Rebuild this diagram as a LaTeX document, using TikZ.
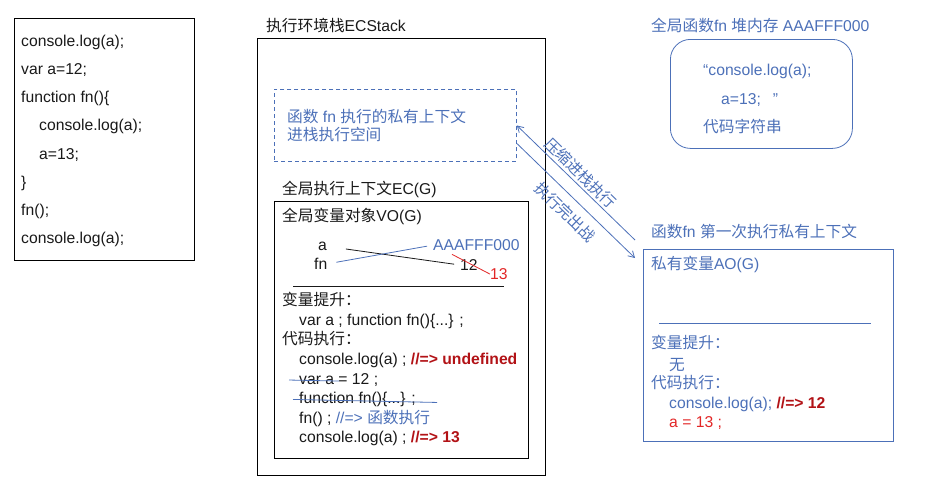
\documentclass[tikz,border=0pt]{standalone}
\usepackage{fontspec}
\setmainfont{Liberation Sans}
\newfontfamily\cjkfont{Noto Sans CJK SC}
\newcommand{\zh}[1]{{\cjkfont #1}}
\usepackage{tikz}
\usetikzlibrary{arrows.meta, calc}
\definecolor{diagBlue}{RGB}{76,112,184}
\definecolor{diagRed}{RGB}{226,38,38}
\definecolor{diagDarkRed}{RGB}{178,18,22}
\definecolor{diagInk}{RGB}{25,25,25}
\tikzset{
  txt/.style={anchor=base west, inner sep=0pt, yshift=-5.5pt, text=diagInk, font=\fontsize{15.7}{18}\selectfont},
  btxt/.style={txt, text=diagBlue},
  box/.style={draw, line width=1pt, anchor=north west, inner sep=0pt},
  flow/.style={-{Straight Barb[length=6pt, width=7pt]}, draw=diagBlue, line width=0.8pt},
}

\begin{document}
\begin{tikzpicture}[x=1pt, y=-1pt]
  \useasboundingbox (0,0) rectangle (936,483);
  % source code
  \node[box, minimum width=180pt, minimum height=242pt] (code) at (14,18) {};
  \node[txt] (c1) at (21,41) {console.log(a);};
  \node[txt] (c2) at (21,69) {var a=12;};
  \node[txt] (c3) at (21,97) {function fn()\{};
  \node[txt] (c4) at (39,125) {console.log(a);};
  \node[txt] (c5) at (39,154) {a=13;};
  \node[txt] (c6) at (21,182) {\}};
  \node[txt] (c7) at (21,210) {fn();};
  \node[txt] (c8) at (21,238) {console.log(a);};

  % ECStack
  \node[txt] (ecstackT) at (266,26) {\zh{执行环境栈}ECStack};
  \node[box, minimum width=288pt, minimum height=437pt] (ecstack) at (257,38) {};
  \node[box, line width=0.8pt, draw=diagBlue, dash pattern=on 4pt off 3pt, minimum width=242pt, minimum height=72pt] (fnctx) at (274,89) {};
  \node[btxt] (fnctxA) at (287,117) {\zh{函数} fn \zh{执行的私有上下文}};
  \node[btxt] (fnctxB) at (287,135) {\zh{进栈执行空间}};

  % EC(G)
  \node[txt] (ecgT) at (282,189) {\zh{全局执行上下文}EC(G)};
  \node[box, minimum width=254pt, minimum height=257pt] (ecg) at (274,201) {};
  \node[txt] (voT) at (282,216) {\zh{全局变量对象}VO(G)};
  \node[txt] (va) at (318,245) {a};
  \node[txt] (vfn) at (314,264) {fn};
  \node[btxt] (vaddr) at (433,245) {AAAFFF000};
  \node[txt] (v12) at (460,265) {12};
  \node[txt, text=diagRed] (v13) at (490,274) {13};
  \draw[line width=0.8pt, diagInk, shorten <=19pt, shorten >=6pt] (va.east) -- (v12.west);
  \draw[line width=0.8pt, diagBlue, shorten <=9pt, shorten >=6pt] (vfn.east) -- (vaddr.west);
  \draw[line width=0.8pt, diagRed] ($(v12.north west)+(-8,-5)$) -- (v13.west);
  \draw[line width=0.8pt, diagInk] (293,286) -- (504,286);
  \node[txt] (hoistT) at (282,300) {\zh{变量提升：}};
  \node[txt] (hoist) at (299,320) {var a ; function fn()\{...\} ;};
  \node[txt] (runT) at (282,339) {\zh{代码执行：}};
  \node[txt] (s1) at (299,359) {console.log(a) ; \textcolor{diagDarkRed}{\bfseries //=> undefined}};
  \node[txt] (s2) at (299,379) {var a = 12 ;};
  \node[txt] (s3) at (299,398) {function fn()\{...\} ;};
  \node[txt] (s4) at (299,418) {fn() ; \textcolor{diagBlue}{//=> \zh{函数执行}}};
  \node[txt] (s5) at (299,437) {console.log(a) ; \textcolor{diagDarkRed}{\bfseries //=> 13}};
  \draw[line width=0.8pt, diagBlue] ($(s2.west)+(-10,0)$) -- ($(s2.west)+(40,1)$);
  \draw[line width=0.8pt, diagBlue] ($(s3.west)+(-6,0)$) -- ($(s3.west)+(138,3)$);

  % heap
  \node[btxt] (heapT) at (651,26) {\zh{全局函数}fn \zh{堆内存} AAAFFF000};
  \node[box, draw=diagBlue, line width=0.8pt, rounded corners=20pt, minimum width=182pt, minimum height=109pt] (heap) at (670,39) {};
  \node[btxt] (h1) at (703,70) {“console.log(a);};
  \node[btxt] (h2) at (721,99) {a=13;\hspace{12pt}”};
  \node[btxt] (h3) at (703,127) {\zh{代码字符串}};

  % AO
  \node[btxt] (aoT) at (651,232) {\zh{函数}fn \zh{第一次执行私有上下文}};
  \node[box, draw=diagBlue, line width=0.8pt, minimum width=250pt, minimum height=192pt] (aoctx) at (643,249) {};
  \node[btxt] (aoV) at (651,264) {\zh{私有变量}AO(G)};
  \draw[line width=0.8pt, diagBlue] (659,323) -- (871,323);
  \node[btxt] (aoHoistT) at (651,343) {\zh{变量提升：}};
  \node[btxt] (aoHoist) at (669,365) {\zh{无}};
  \node[btxt] (aoRunT) at (651,383) {\zh{代码执行：}};
  \node[btxt] (ao1) at (669,403) {console.log(a); \textcolor{diagDarkRed}{\bfseries //=> 12}};
  \node[btxt, text=diagRed] (ao2) at (669,422) {a = 13 ;};

  % push / pop
  \draw[flow] ($(aoctx.north west)+(-8,-9)$) -- node[pos=0.52, above, sloped, inner sep=2.5pt, text=diagBlue, font=\fontsize{15.5}{18}\selectfont] (pushL) {\zh{压缩进栈执行}} (fnctx.east);
  \draw[flow] ($(fnctx.east)+(0,18)$) -- node[pos=0.5, below, sloped, inner sep=8pt, text=diagBlue, font=\fontsize{15.5}{18}\selectfont] (popL) {\zh{执行完出战}} ($(aoctx.north west)+(-8,9)$);
\end{tikzpicture}
\end{document}
